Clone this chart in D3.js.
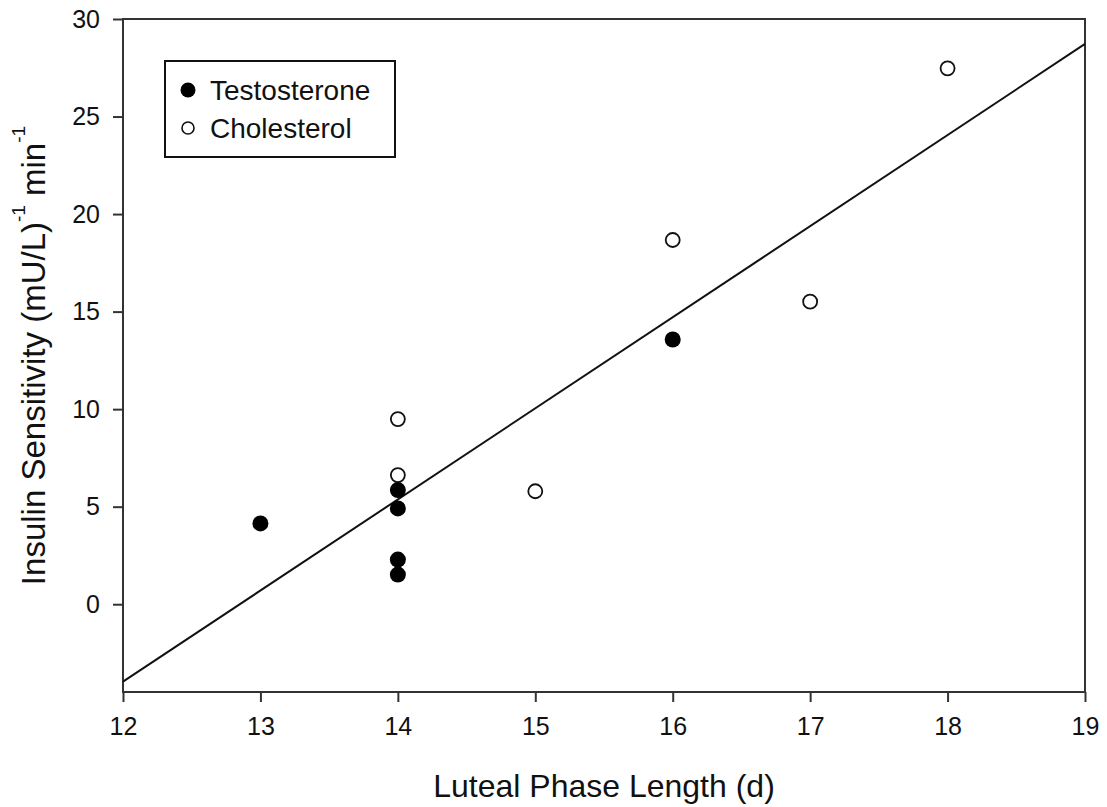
<!DOCTYPE html>
<html>
<head>
<meta charset="utf-8">
<script src="https://cdn.jsdelivr.net/npm/d3@7"></script>
<style>
  body { margin: 0; background: #fff; }
  text { font-family: "Liberation Sans", Arial, sans-serif; fill: #111; }
</style>
</head>
<body>
<div id="chart"></div>
<script>
// data
var testoX = [13, 14, 14, 14, 14, 16];
var testoY = [4.14, 5.85, 4.91, 2.29, 1.52, 13.57];
var cholX = [14, 14, 15, 16, 17, 18];
var cholY = [9.49, 6.62, 5.79, 18.67, 15.51, 27.47];
var xTicks = [12, 13, 14, 15, 16, 17, 18, 19];
var yTicks = [0, 5, 10, 15, 20, 25, 30];

var margin = {top: 19, right: 22, bottom: 115, left: 123},
    width = 962,
    height = 673;

var svg = d3.select("#chart")
  .append("svg")
    .attr("width", 1107)
    .attr("height", 807)
  .append("g")
    .attr("transform", "translate(" + margin.left + "," + margin.top + ")");

var x = d3.scaleLinear().domain([12, 19]).range([0, width]);
var y = d3.scaleLinear().domain([-4.5, 30]).range([height, 0]);

// frame
svg.append("rect")
  .attr("width", width)
  .attr("height", height)
  .attr("fill", "none")
  .attr("stroke", "#333")
  .attr("stroke-width", 2);

// x axis
var gx = svg.append("g")
  .attr("transform", "translate(0," + height + ")")
  .call(d3.axisBottom(x).tickValues(xTicks).tickSize(10).tickPadding(15).tickFormat(d3.format("d")));
gx.select(".domain").remove();
gx.selectAll("line").attr("stroke", "#333").attr("stroke-width", 2);
gx.selectAll("text").style("font-size", "25px").attr("fill", "#111");

// y axis
var gy = svg.append("g")
  .call(d3.axisLeft(y).tickValues(yTicks).tickSize(10).tickPadding(13));
gy.select(".domain").remove();
gy.selectAll("line").attr("stroke", "#333").attr("stroke-width", 2);
gy.selectAll("text").style("font-size", "25px").attr("fill", "#111");

// regression line over all points
var allX = testoX.concat(cholX), allY = testoY.concat(cholY);
var mx = d3.mean(allX), my = d3.mean(allY);
var sxy = d3.sum(allX, function(d, i) { return (d - mx) * (allY[i] - my); });
var sxx = d3.sum(allX, function(d) { return (d - mx) * (d - mx); });
var slope = sxy / sxx, icpt = my - slope * mx;
var dom = x.domain();
svg.append("line")
  .attr("x1", x(dom[0])).attr("y1", y(icpt + slope * dom[0]))
  .attr("x2", x(dom[1])).attr("y2", y(icpt + slope * dom[1]))
  .attr("stroke", "#111")
  .attr("stroke-width", 2);

// points
svg.selectAll(".chol")
  .data(cholX)
  .enter()
  .append("circle")
    .attr("cx", function(d) { return x(d); })
    .attr("cy", function(d, i) { return y(cholY[i]); })
    .attr("r", 7)
    .attr("fill", "#fff")
    .attr("stroke", "#111")
    .attr("stroke-width", 1.8);

svg.selectAll(".testo")
  .data(testoX)
  .enter()
  .append("circle")
    .attr("cx", function(d) { return x(d); })
    .attr("cy", function(d, i) { return y(testoY[i]); })
    .attr("r", 8)
    .attr("fill", "#000");

// legend
var lg = svg.append("g").attr("transform", "translate(42,42)");
lg.append("rect")
  .attr("width", 230).attr("height", 96)
  .attr("fill", "#fff").attr("stroke", "#111").attr("stroke-width", 2);
lg.append("circle").attr("cx", 23).attr("cy", 29).attr("r", 7.5).attr("fill", "#000");
lg.append("circle").attr("cx", 23).attr("cy", 67).attr("r", 6)
  .attr("fill", "#fff").attr("stroke", "#111").attr("stroke-width", 1.6);
lg.append("text").attr("x", 45).attr("y", 39).style("font-size", "28px").text("Testosterone");
lg.append("text").attr("x", 45).attr("y", 77).style("font-size", "28px").text("Cholesterol");

// axis titles
svg.append("text")
  .attr("x", width / 2)
  .attr("y", 778)
  .attr("text-anchor", "middle")
  .style("font-size", "32px")
  .text("Luteal Phase Length (d)");

var yt = svg.append("text")
  .attr("transform", "translate(" + (45 - margin.left) + "," + (height / 2) + ")rotate(-90)")
  .attr("text-anchor", "middle")
  .style("font-size", "33px");
yt.append("tspan").text("Insulin Sensitivity (mU/L)");
yt.append("tspan").attr("dy", -20).style("font-size", "19px").text("-1");
yt.append("tspan").attr("dy", 20).text(" min");
yt.append("tspan").attr("dy", -20).style("font-size", "19px").text("-1");
</script>
</body>
</html>
